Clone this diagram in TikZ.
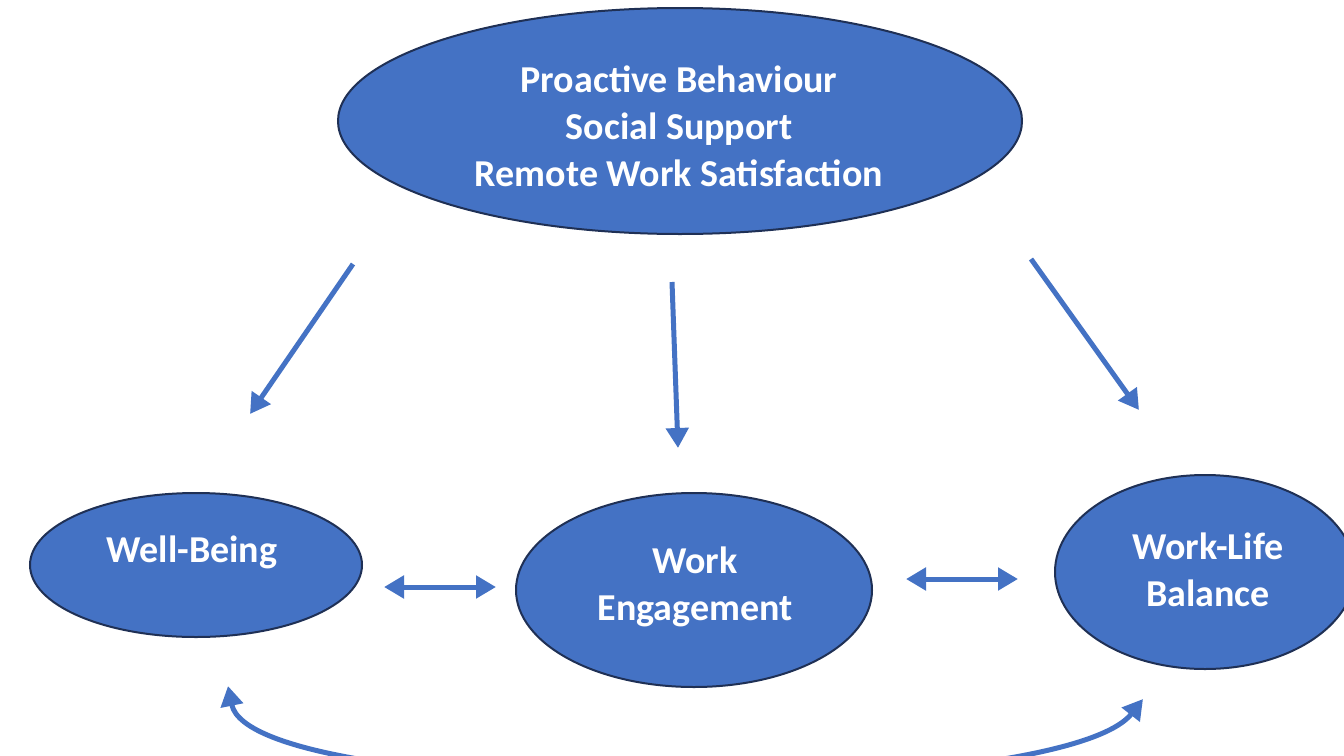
\documentclass[tikz,border=0pt]{standalone}
\usepackage{fontspec}
\setmainfont{Carlito}
\usetikzlibrary{shapes.geometric,arrows.meta}
\definecolor{boxblue}{HTML}{4472C4}
\definecolor{rimnavy}{HTML}{1F3055}
\tikzset{
  oval/.style={ellipse, draw=rimnavy, line width=2pt, fill=boxblue, inner sep=0pt},
  lbl/.style={text=white, font=\bfseries\fontsize{38}{47}\selectfont, align=center},
  link/.style={draw=boxblue, line width=5pt, -{Triangle[length=20pt,width=22pt]}},
  bilink/.style={draw=boxblue, line width=5pt, {Triangle[length=20pt,width=22pt]}-{Triangle[length=20pt,width=22pt]}}
}
\begin{document}
\begin{tikzpicture}[x=1pt,y=-1pt]
\useasboundingbox (0,0) rectangle (1344,755);
\clip (0,0) rectangle (1344,755);
\fill[white] (0,0) rectangle (1344,755);

% ovals
\node[oval, minimum width=684pt, minimum height=226pt] (top) at (680,121) {};
\node[oval, minimum width=332pt, minimum height=144pt] (wb) at (196,565) {};
\node[oval, minimum width=356pt, minimum height=194pt] (we) at (694,590) {};
\node[oval, minimum width=300pt, minimum height=194pt] (wlb) at (1205,572) {};

% labels
\node[lbl] (ttop) at (679,126) {Proactive Behaviour\\Social Support\\Remote Work Satisfaction};
\node[lbl] (twb) at (192,552) {Well-Being};
\node[lbl] (twe) at (695,587) {Work\\Engagement};
\node[lbl] (twlb) at (1208,570) {Work-Life\\Balance};

% connector end points
\coordinate (a1s) at (353,264); \coordinate (a1e) at (250,414);
\coordinate (a2s) at (672,282); \coordinate (a2e) at (678,448);
\coordinate (a3s) at (1031,259); \coordinate (a3e) at (1139,410);
\coordinate (b1s) at (384,587); \coordinate (b1e) at (496,587);
\coordinate (b2s) at (906,579); \coordinate (b2e) at (1018,579);
\coordinate (cs) at (228,686); \coordinate (ce) at (1143,699);

\draw[link] (a1s) -- (a1e);
\draw[link] (a2s) -- (a2e);
\draw[link] (a3s) -- (a3e);
\draw[bilink] (b1s) -- (b1e);
\draw[bilink] (b2s) -- (b2e);
\draw[bilink] (cs) .. controls (252,805) and (1060,805) .. (ce);
\end{tikzpicture}
\end{document}
